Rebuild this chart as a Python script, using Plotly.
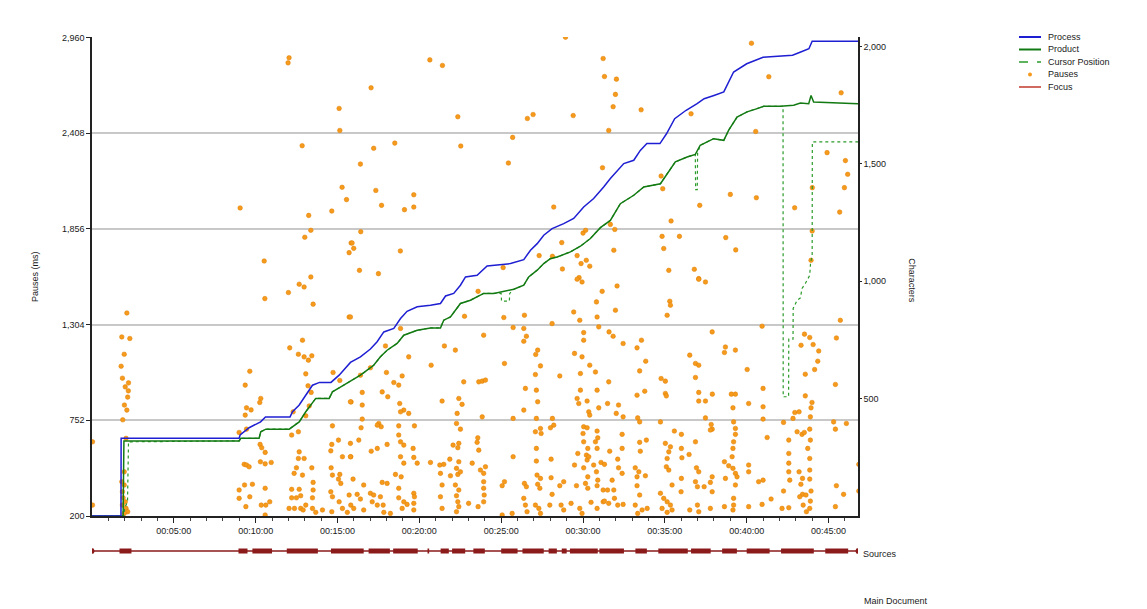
import plotly.graph_objects as go

# ---------------- data ----------------
# Process / Product / Cursor position (characters vs. minutes)
process_min = [0, 1.77, 1.78, 8.99, 9.05, 9.6, 10.3, 10.6, 12.1, 12.25, 12.65, 13.06, 13.47, 13.9, 14.6, 15.1,
               15.79, 16.4, 17.01, 17.42, 17.83, 18.44, 18.85, 19.25, 19.87, 20.68, 21.29, 21.6, 22.1, 22.51,
               22.82, 23.53, 24.14, 25.57, 26.38, 26.79, 27.2, 27.6, 28.11, 28.82, 29.43, 30.04, 30.65, 31.26,
               31.67, 32.49, 33.1, 33.5, 33.9, 34.7, 35.1, 35.6, 36.3, 36.97, 37.4, 38.0, 38.6, 39.2, 40.0,
               41.0, 42.0, 42.8, 43.3, 43.8, 44.0, 46.8]
process_chars = [0, 0, 331, 331, 345, 376, 401, 422, 422, 444, 472, 515, 557, 569, 569, 600,
                 654, 678, 711, 742, 784, 799, 841, 872, 891, 898, 905, 937, 948, 983,
                 1018, 1025, 1065, 1075, 1092, 1132, 1160, 1196, 1224, 1245, 1267, 1316, 1352, 1401,
                 1437, 1501, 1515, 1557, 1586, 1586, 1628, 1692, 1728, 1756, 1777, 1791, 1806, 1891, 1926,
                 1954, 1957, 1962, 1976, 1990, 2022, 2022]

product_min = [0, 1.9, 1.95, 8.99, 9.09, 10.21, 10.31, 10.62, 12.05, 12.25, 12.66, 13.06, 13.47, 13.67, 14.49,
               14.69, 15.2, 15.71, 16.4, 16.81, 17.21, 17.62, 18.03, 18.64, 19.05, 19.87, 20.68, 21.29, 21.49,
               21.9, 22.51, 23.12, 23.93, 24.55, 25.77, 26.38, 26.68, 27.2, 27.6, 28.0, 28.42, 29.23, 29.84,
               30.45, 31.06, 31.67, 32.28, 33.1, 33.71, 34.73, 35.14, 35.64, 36.36, 36.86, 37.16, 37.98, 38.6,
               38.9, 39.41, 40.02, 40.64, 41.04, 42.06, 42.87, 43.28, 43.79, 43.93, 44.09, 46.8]
product_chars = [0, 0, 320, 320, 331, 331, 359, 370, 370, 380, 401, 444, 486, 501, 501,
                 529, 550, 571, 600, 621, 642, 678, 706, 735, 770, 791, 801, 801, 834,
                 848, 905, 919, 948, 948, 966, 983, 1018, 1047, 1075, 1096, 1103, 1125, 1149,
                 1182, 1228, 1259, 1330, 1366, 1401, 1415, 1458, 1508, 1529, 1540, 1579, 1607, 1600,
                 1643, 1699, 1721, 1735, 1745, 1745, 1749, 1759, 1756, 1791, 1763, 1756]

cursor_min = [0, 1.95, 1.99, 2.17, 2.23, 8.99, 9.09, 10.21, 10.31, 10.62, 12.05, 12.25, 12.66, 13.06, 13.47,
              13.67, 14.49, 14.69, 15.2, 15.71, 16.4, 16.81, 17.21, 17.62, 18.03, 18.64, 19.05, 19.87, 20.68,
              21.29, 21.49, 21.9, 22.51, 23.12, 23.93, 25.0, 25.02, 25.5, 25.52, 25.77, 26.38, 26.68, 27.2,
              27.6, 28.0, 28.42, 29.23, 29.84, 30.45, 31.06, 31.67, 32.28, 33.1, 33.71, 34.73, 35.14, 35.64,
              36.36, 36.86, 36.88, 36.98, 37.0, 37.16, 37.98, 38.6, 38.9, 39.41, 40.02, 40.64, 41.04, 42.22,
              42.23, 42.56, 42.57, 42.83, 42.84, 43.08, 43.28, 43.38, 43.58, 43.85, 43.9, 44.0, 44.01, 46.8]
cursor_chars = [0, 0, 33, 61, 316, 320, 331, 331, 359, 370, 370, 380, 401, 444, 486,
                501, 501, 529, 550, 571, 600, 621, 642, 678, 706, 735, 770, 791, 801,
                801, 834, 848, 905, 919, 948, 948, 915, 915, 948, 966, 983, 1018, 1047,
                1075, 1096, 1103, 1125, 1149, 1182, 1228, 1259, 1330, 1366, 1401, 1415, 1458, 1508,
                1529, 1540, 1390, 1390, 1545, 1579, 1607, 1600, 1643, 1699, 1721, 1735, 1745, 1745,
                508, 508, 753, 753, 884, 919, 929, 969, 990, 1025, 1075, 1111, 1593, 1593]

# Pauses: (minute, pause length in ms), grouped by part of the session
pauses_start = [(0.03, 628), (0.03, 263), (2.13, 1371), (1.82, 1233), (2.31, 1224), (1.97, 1133), (1.78, 1064),
                (1.86, 995), (2.23, 968), (2.03, 945), (2.22, 922), (2.18, 886), (1.98, 840), (2.13, 811),
                (1.88, 755), (2.08, 648), (1.97, 455), (1.82, 398), (1.97, 379), (1.86, 340), (1.9, 305),
                (2.03, 282), (1.86, 263), (2.08, 244), (2.18, 225), (1.97, 215)]

pauses_min9 = [(9.64, 1035), (9.36, 955), (10.31, 878), (10.25, 855), (9.44, 824), (9.72, 812), (9.36, 782),
               (8.99, 682), (9.44, 701), (10.27, 613), (10.37, 594), (10.58, 567), (9.3, 498), (9.44, 494),
               (9.6, 484), (10.29, 513), (10.58, 501), (10.95, 509), (9.32, 379), (9.8, 383), (8.99, 350),
               (10.58, 360), (9.64, 311), (8.99, 302), (10.34, 263), (10.62, 263), (9.4, 254), (10.86, 282),
               (10.58, 206), (9.05, 1977), (10.52, 1671), (10.56, 1454)]

pauses_min12_high = [(12.04, 2843), (11.98, 2814), (15.1, 2551), (15.14, 2424), (12.84, 2336), (15.28, 2096),
                     (15.55, 2025), (14.65, 1959), (13.24, 1934), (13.37, 1848), (13.0, 1808), (15.83, 1775),
                     (15.71, 1719), (13.37, 1579), (12.0, 1489), (12.66, 1537), (12.96, 1521), (13.51, 1422),
                     (15.71, 1348)]

pauses_min12_low = [(12.08, 1170), (12.86, 1214), (12.61, 1133), (12.96, 1118), (13.43, 1124), (13.22, 1099),
                    (13.06, 1020), (14.73, 1028), (13.2, 951), (15.14, 982), (13.39, 913), (15.83, 858),
                    (13.27, 835), (13.06, 778), (12.29, 801), (14.69, 720), (12.2, 667), (12.61, 686),
                    (14.65, 613), (15.06, 638), (12.66, 570), (12.61, 532), (12.96, 532), (14.59, 576),
                    (15.3, 542), (15.81, 542), (12.49, 478), (13.43, 478), (12.35, 446), (12.86, 436),
                    (14.61, 478), (15.14, 440), (14.69, 436), (15.06, 413), (15.2, 388), (13.51, 394),
                    (12.2, 354), (12.66, 354), (13.51, 350), (14.59, 340), (12.2, 305), (12.49, 305),
                    (12.75, 317), (13.47, 305), (14.69, 311), (15.71, 321), (12.04, 244), (12.37, 244),
                    (12.75, 244), (13.06, 263), (13.47, 244), (13.67, 221), (14.08, 235), (14.65, 225),
                    (15.1, 282), (15.3, 244), (15.6, 221), (15.81, 263), (12.9, 235)]

pauses_min16_high = [(17.05, 2670), (20.64, 2831), (21.41, 2799), (28.93, 2962), (31.23, 2839), (31.31, 2735),
                     (22.35, 2503), (26.6, 2493), (26.95, 2516), (29.4, 2510), (31.57, 2424), (17.21, 2321),
                     (18.5, 2351), (22.53, 2334), (25.7, 2384), (16.4, 2230), (25.44, 2236), (31.19, 2209),
                     (17.34, 2078), (19.66, 2053), (17.69, 1992), (19.09, 1967), (19.66, 1982), (28.21, 1982),
                     (16.42, 1840), (15.89, 1775), (15.99, 1744), (18.84, 1729), (16.34, 1617), (17.5, 1598),
                     (28.7, 1777), (30.0, 1832), (30.16, 1848), (27.32, 1702), (28.13, 1698), (29.64, 1702),
                     (29.88, 1656), (30.2, 1675), (30.41, 1641), (28.74, 1625), (25.12, 1633), (29.76, 1575)]

pauses_min16_low = [(15.79, 1348), (23.59, 1496), (31.17, 1496), (30.82, 1435), (22.76, 1352), (25.16, 1345),
                    (26.42, 1358), (29.64, 1566), (29.94, 1550), (29.43, 1377), (29.8, 1329), (30.86, 1348),
                    (30.96, 1291), (28.11, 1310), (25.73, 1287), (26.38, 1282), (23.93, 1243), (26.54, 1237),
                    (26.38, 1208), (30.04, 1258), (30.04, 1214), (18.85, 1282), (17.93, 1181), (21.53, 1181),
                    (22.2, 1157), (27.23, 1157), (27.11, 1132), (29.48, 1138), (29.94, 1118), (19.35, 1118),
                    (17.01, 1055), (16.4, 1012), (20.72, 1070), (25.2, 1080), (27.4, 1066), (30.41, 1070),
                    (17.99, 1028), (18.95, 1008), (27.09, 1016), (28.58, 1008), (29.84, 1022), (30.76, 1031),
                    (18.44, 970), (18.74, 955), (22.71, 974), (23.63, 974), (23.84, 978), (24.04, 984),
                    (26.48, 936), (27.15, 926), (17.73, 916), (16.51, 913), (18.07, 888), (29.84, 926),
                    (30.86, 926), (22.41, 878), (22.61, 844), (21.39, 863), (29.64, 878), (29.74, 849),
                    (30.25, 863), (27.23, 859), (16.51, 840), (15.79, 859), (18.8, 849), (19.05, 811),
                    (18.85, 801), (19.35, 792), (22.31, 792), (26.38, 811), (30.96, 824), (30.35, 801),
                    (30.41, 782), (23.84, 772), (25.73, 763), (27.15, 763), (28.13, 763), (16.51, 759),
                    (17.52, 734), (17.67, 715), (17.43, 724), (18.74, 720), (19.7, 720), (22.27, 734),
                    (22.51, 701), (16.44, 709), (27.4, 705), (27.09, 686), (28.21, 724), (28.01, 709),
                    (27.44, 676), (30.04, 715), (30.25, 709), (30.86, 690), (30.9, 651), (30.0, 676),
                    (16.3, 638), (18.74, 667), (18.85, 628), (19.05, 609), (23.57, 651), (23.53, 625),
                    (22.41, 619), (22.06, 609), (15.79, 619), (18.03, 613), (30.04, 628), (30.76, 628),
                    (17.06, 574), (17.43, 590), (19.62, 590), (22.35, 594), (23.63, 580), (27.15, 590),
                    (30.29, 590), (30.21, 551), (30.86, 590), (29.68, 561), (15.79, 542), (18.85, 542),
                    (19.66, 538), (21.86, 528), (25.73, 542), (28.05, 528), (30.25, 523), (30.35, 542),
                    (19.05, 505), (19.87, 505), (20.68, 509), (21.25, 494), (21.49, 498), (22.41, 513),
                    (23.23, 505), (24.04, 484), (27.15, 517), (29.48, 494), (30.04, 478), (30.65, 494),
                    (31.1, 509), (21.29, 446), (21.9, 432), (22.27, 475), (22.35, 440), (22.51, 455),
                    (23.73, 465), (23.93, 446), (18.54, 440), (18.89, 426), (15.95, 413), (27.19, 436),
                    (27.4, 417), (28.05, 421), (30.29, 426), (30.82, 455), (30.9, 407), (17.73, 394),
                    (18.03, 388), (16.6, 379), (18.74, 360), (19.66, 331), (19.7, 311), (21.39, 379),
                    (22.2, 379), (22.41, 350), (23.93, 398), (23.93, 360), (23.96, 321), (25.2, 398),
                    (25.06, 375), (26.42, 388), (26.54, 369), (27.23, 383), (27.36, 360), (28.58, 375),
                    (28.82, 398), (29.6, 375), (30.15, 388), (30.29, 360), (30.86, 375), (16.2, 325),
                    (17.01, 331), (17.21, 321), (17.62, 311), (16.4, 298), (17.12, 282), (17.43, 263),
                    (17.79, 263), (18.74, 305), (19.05, 282), (19.25, 267), (18.95, 244), (19.66, 273),
                    (19.66, 235), (21.29, 311), (21.39, 244), (22.27, 317), (22.35, 282), (22.41, 254),
                    (22.27, 225), (23.01, 273), (23.59, 254), (23.93, 282), (25.67, 215), (26.38, 302),
                    (26.48, 263), (26.58, 225), (27.09, 263), (27.3, 244), (27.4, 215), (27.97, 263),
                    (28.11, 325), (28.66, 263), (28.82, 235), (29.27, 273), (29.8, 244), (29.94, 215),
                    (30.49, 279), (30.86, 244), (31.23, 282), (15.99, 244), (16.6, 235), (17.83, 221),
                    (18.23, 215), (25.06, 206)]

pauses_min31_high = [(32.04, 2720), (31.98, 2632), (31.84, 2561), (33.55, 2543), (40.29, 2927), (41.35, 2734),
                     (45.77, 2641), (36.6, 2520), (40.55, 2418), (34.77, 2161), (34.87, 2088), (37.13, 1992),
                     (39.0, 2055), (40.59, 2036), (42.93, 1978), (44.91, 2296), (46.03, 2250), (46.17, 2171),
                     (45.97, 2094), (44.01, 2094), (45.68, 1953), (35.38, 1902), (31.67, 1882), (31.94, 1853),
                     (34.83, 1813), (35.89, 1813), (38.72, 1806), (44.0, 1844), (31.88, 1733), (34.93, 1743),
                     (39.33, 1735), (35.24, 1617), (36.8, 1623), (37.07, 1569), (43.93, 1675)]

pauses_min31_low = [(32.08, 1527), (31.98, 1387), (37.07, 1566), (37.48, 1550), (35.3, 1439), (35.34, 1416),
                    (35.14, 1358), (40.94, 1295), (45.72, 1329), (31.59, 1262), (31.84, 1237), (37.89, 1262),
                    (32.45, 1195), (33.3, 1170), (33.57, 1214), (38.7, 1175), (38.64, 1143), (39.31, 1157),
                    (36.52, 1128), (36.87, 1080), (37.07, 1070), (33.83, 1093), (33.46, 1037), (40.03, 1045),
                    (43.32, 1185), (43.53, 1249), (43.85, 1230), (44.06, 1189), (44.4, 1152), (44.34, 1093),
                    (44.15, 1045), (43.58, 1018), (45.48, 1227), (45.42, 959), (31.57, 974), (34.77, 993),
                    (35.03, 978), (36.87, 999), (35.03, 907), (35.09, 893), (33.3, 897), (33.77, 920),
                    (37.07, 913), (37.9, 903), (39.06, 903), (39.31, 903), (41.0, 936), (43.58, 893),
                    (43.99, 855), (31.5, 849), (32.17, 840), (32.03, 792), (32.45, 772), (33.34, 766),
                    (33.46, 743), (34.73, 743), (37.07, 863), (37.48, 863), (37.48, 766), (37.83, 728),
                    (37.89, 701), (39.16, 824), (39.2, 743), (39.31, 705), (40.12, 849), (41.0, 830),
                    (41.0, 759), (42.25, 740), (42.94, 797), (43.2, 801), (42.83, 763), (43.93, 824),
                    (43.89, 772), (45.31, 743), (46.09, 734), (45.42, 701), (32.39, 671), (35.58, 690),
                    (36.01, 671), (37.78, 696), (39.31, 671), (41.25, 653), (42.57, 638), (43.08, 686),
                    (43.38, 671), (43.52, 682), (43.85, 701), (43.89, 638), (31.63, 574), (32.39, 590),
                    (33.46, 625), (33.87, 638), (33.5, 574), (35.03, 619), (35.34, 599), (35.24, 570),
                    (36.01, 590), (36.87, 628), (36.48, 555), (36.04, 536), (39.2, 628), (39.16, 590),
                    (39.11, 542), (43.73, 590), (43.85, 532), (42.57, 561), (31.31, 498), (32.12, 528),
                    (32.17, 478), (32.39, 446), (31.78, 407), (33.19, 478), (33.41, 455), (33.3, 426),
                    (33.81, 432), (35.14, 532), (35.09, 484), (35.24, 465), (35.44, 379), (36.01, 417),
                    (36.93, 478), (37.07, 455), (36.87, 398), (36.99, 369), (37.4, 369), (37.89, 426),
                    (37.78, 394), (38.64, 513), (38.9, 490), (39.16, 475), (39.31, 446), (39.41, 426),
                    (38.7, 417), (39.31, 379), (40.12, 494), (40.12, 455), (40.73, 398), (41.0, 407),
                    (42.25, 344), (42.57, 505), (42.57, 455), (42.63, 407), (43.2, 455), (43.41, 417),
                    (43.31, 383), (43.85, 465), (43.85, 413), (43.93, 344), (43.41, 325), (43.62, 321),
                    (45.48, 375), (45.92, 325), (31.23, 350), (31.5, 350), (31.88, 350), (31.31, 286),
                    (31.57, 273), (31.92, 302), (32.12, 263), (32.45, 267), (33.3, 375), (33.46, 321),
                    (33.19, 263), (33.61, 235), (33.34, 215), (33.92, 244), (34.73, 331), (34.93, 302),
                    (35.14, 282), (35.34, 263), (34.83, 244), (35.14, 221), (35.44, 235), (35.99, 340),
                    (36.52, 235), (36.99, 263), (37.07, 225), (37.89, 340), (37.78, 244), (38.64, 254),
                    (39.2, 302), (39.2, 263), (39.16, 235), (40.12, 254), (40.94, 267), (41.49, 298),
                    (42.16, 244), (42.57, 248), (43.24, 311), (43.45, 263), (43.65, 225), (43.89, 286),
                    (43.85, 244), (45.42, 254), (46.85, 498), (46.85, 344)]

# Focus on "Sources": intervals (start, end) in minutes
focus_intervals = [(0.0, 0.1), (1.68, 2.41), (8.95, 9.5), (9.8, 11.0), (11.9, 13.8), (14.6, 16.6), (16.9, 18.2),
                   (18.4, 19.9), (20.5, 20.6), (21.3, 21.8), (22.0, 22.8), (23.3, 24.0), (25.0, 26.0),
                   (26.3, 27.6), (27.9, 28.4), (28.7, 29.0), (29.2, 30.9), (31.0, 32.5), (33.2, 33.9),
                   (34.6, 36.4), (36.6, 37.8), (38.5, 39.4), (40.0, 41.4), (42.1, 44.1), (44.8, 46.2),
                   (46.7, 46.8)]
session_span = [0.0, 46.8]

pause_ticks = [200, 752, 1304, 1856, 2408, 2960]
char_ticks = [500, 1000, 1500, 2000]
time_ticks = [5, 10, 15, 20, 25, 30, 35, 40, 45]

legend_names = ["Process", "Product", "Cursor Position", "Pauses", "Focus"]

# ---------------- build ----------------
all_pauses = (pauses_start + pauses_min9 + pauses_min12_high + pauses_min12_low + pauses_min16_high +
              pauses_min16_low + pauses_min31_high + pauses_min31_low)
pause_x = [p[0] for p in all_pauses]
pause_y = [p[1] for p in all_pauses]

focus_x, focus_y = [], []
for a, b in focus_intervals:
    focus_x += [a, b, None]
    focus_y += [0, 0, None]


def hms(m):
    return "00:%02d:00" % m


FONT = "Liberation Sans"
TXT = "#1a1a1a"
C_PAUSE = "#F59A1C"
C_PRODUCT = "#137A13"
C_CURSOR = "#2A9A2A"
C_PROCESS = "#1E1ED2"
C_FOCUS = "#C0392B"
C_FOCUS_DARK = "#8B1A1A"

fig = go.Figure()
fig.add_trace(go.Scatter(x=pause_x, y=pause_y, mode="markers", name="Pauses",
                         marker=dict(size=4.6, color=C_PAUSE, line=dict(width=0.5, color="#E07F00")),
                         yaxis="y"))
fig.add_trace(go.Scatter(x=cursor_min, y=cursor_chars, mode="lines", name="Cursor Position",
                         line=dict(color=C_CURSOR, width=1.2, dash="dot"), yaxis="y2"))
fig.add_trace(go.Scatter(x=product_min, y=product_chars, mode="lines", name="Product",
                         line=dict(color=C_PRODUCT, width=1.5), yaxis="y2"))
fig.add_trace(go.Scatter(x=process_min, y=process_chars, mode="lines", name="Process",
                         line=dict(color=C_PROCESS, width=1.5), yaxis="y2"))
fig.add_trace(go.Scatter(x=session_span, y=[0, 0], mode="lines+markers", name="Focus",
                         line=dict(color=C_FOCUS_DARK, width=1.5),
                         marker=dict(size=5, color=C_FOCUS_DARK), yaxis="y3"))
fig.add_trace(go.Scatter(x=focus_x, y=focus_y, mode="lines", name="Focus (Sources)", hoverinfo="skip",
                         line=dict(color=C_FOCUS_DARK, width=5), yaxis="y3"))

# compact legend (entries 12.5 px apart, like the reference)
legend_style = {
    "Process": dict(color=C_PROCESS, dash="solid", width=2),
    "Product": dict(color=C_PRODUCT, dash="solid", width=2),
    "Cursor Position": dict(color=C_CURSOR, dash="dash", width=1.5),
    "Focus": dict(color=C_FOCUS, dash="solid", width=1.5),
}
shapes, annotations = [], []
lx0, lx1, ltx = 1.2102, 1.2389, 1.2454
for i, name in enumerate(legend_names):
    ly = 1.0 - i * 0.0239
    if name == "Pauses":
        cx = (lx0 + lx1) / 2
        shapes.append(dict(type="circle", xref="paper", yref="paper", x0=cx - 0.0026, x1=cx + 0.0026,
                           y0=ly - 0.0038, y1=ly + 0.0038, fillcolor=C_PAUSE, line=dict(width=0)))
    else:
        shapes.append(dict(type="line", xref="paper", yref="paper", x0=lx0, x1=lx1, y0=ly, y1=ly,
                           line=legend_style[name]))
    annotations.append(dict(text=name, xref="paper", yref="paper", x=ltx, y=ly, xanchor="left",
                            yanchor="middle", showarrow=False, font=dict(family=FONT, size=9, color=TXT)))

annotations += [
    dict(text="Pauses (ms)", xref="paper", yref="paper", x=-0.0744, y=0.541, textangle=-90,
         xanchor="center", yanchor="middle", showarrow=False, font=dict(family=FONT, size=9, color=TXT)),
    dict(text="Characters", xref="paper", yref="paper", x=1.0705, y=0.535, textangle=90,
         xanchor="center", yanchor="middle", showarrow=False, font=dict(family=FONT, size=9, color=TXT)),
    dict(text="Sources", xref="paper", yref="y3", x=1.004, y=-0.3, xanchor="left", yanchor="middle",
         showarrow=False, font=dict(family=FONT, size=9, color=TXT)),
    dict(text="Main Document", xref="paper", yref="paper", x=1.005, y=-0.078, xanchor="left",
         yanchor="middle", showarrow=False, font=dict(family=FONT, size=9, color=TXT)),
]

axis_font = dict(family=FONT, size=9, color=TXT)
fig.update_layout(
    width=1139, height=601,
    margin=dict(l=84, r=289, t=29, b=49),
    paper_bgcolor="white", plot_bgcolor="white",
    showlegend=False,
    font=dict(family=FONT, size=9, color=TXT),
    xaxis=dict(range=[0, 46.8], tickmode="array", tickvals=time_ticks, ticktext=[hms(m) for m in time_ticks],
               showgrid=False, zeroline=False, showline=True, linecolor="#222", linewidth=1.5,
               ticks="outside", ticklen=5, tickcolor="#222", tickfont=axis_font,
               minor=dict(tickvals=list(range(1, 47)), ticks="outside", ticklen=3, tickcolor="#444"),
               anchor="y"),
    yaxis=dict(domain=[0.0841, 1], range=[200, 2963], tickmode="array", tickvals=pause_ticks,
               ticktext=[f"{v:,}" for v in pause_ticks], showgrid=True, gridcolor="#C8C8C8", gridwidth=2,
               zeroline=False, showline=True, linecolor="#222", linewidth=1.5, ticks="outside", ticklen=4,
               tickcolor="#222", tickfont=axis_font),
    yaxis2=dict(overlaying="y", side="right", anchor="x", range=[0, 2040], tickmode="array",
                tickvals=char_ticks, ticktext=[f"{v:,}" for v in char_ticks], showgrid=False,
                zeroline=False, showline=True, linecolor="#222", linewidth=1.5, ticks="outside", ticklen=2,
                tickcolor="#222", tickfont=axis_font),
    yaxis3=dict(domain=[0, 0.0344], range=[-1, 1], visible=False, anchor="x"),
    shapes=shapes,
    annotations=annotations,
)

fig.write_html("out.html")
